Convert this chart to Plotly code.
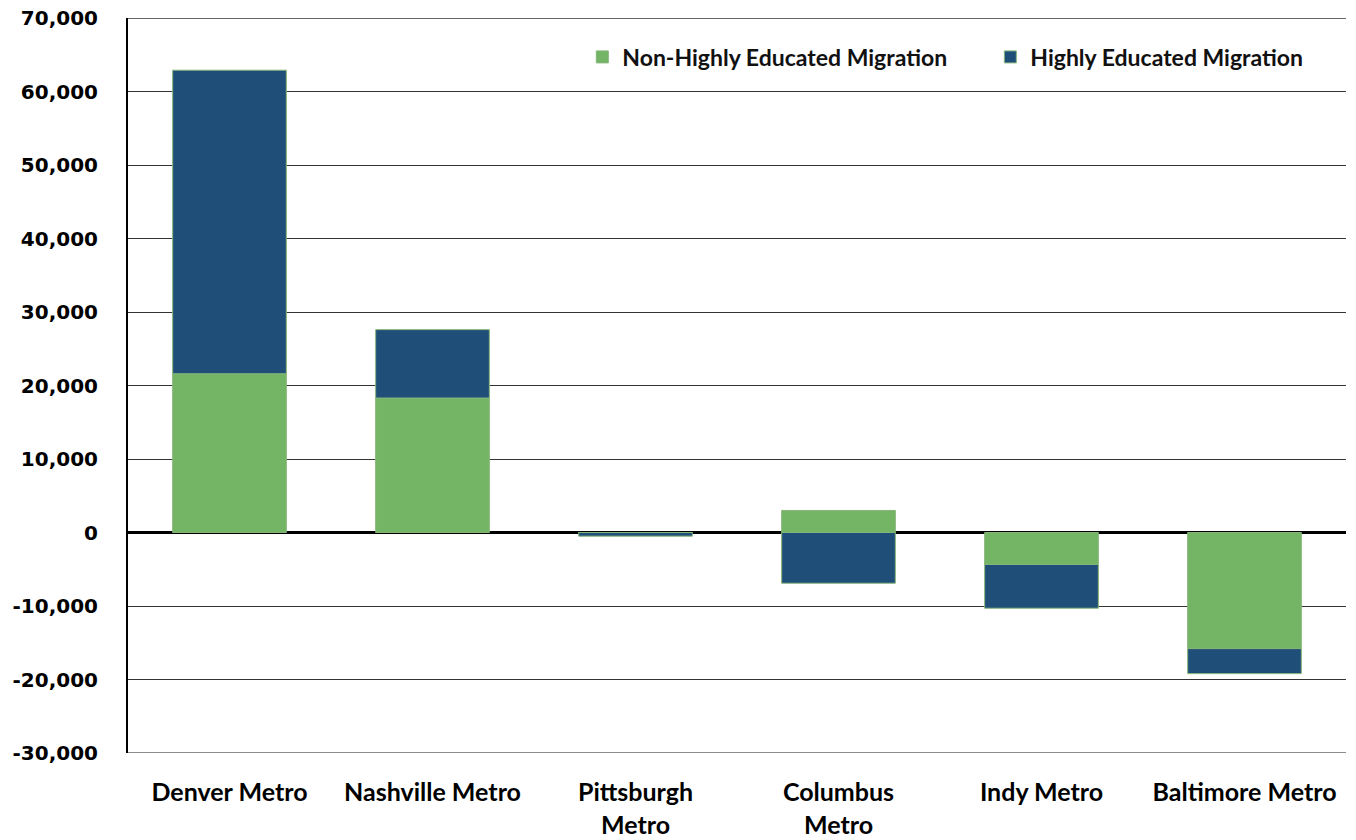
import plotly.graph_objects as go

categories = ["Denver Metro", "Nashville Metro", "Pittsburgh<br>Metro", "Columbus<br>Metro", "Indy Metro", "Baltimore Metro"]
non_highly = [21600, 18300, 0, 3000, -4350, -15800]
highly = [41300, 9300, -500, -6900, -5950, -3400]
y_ticks = list(range(-30000, 70001, 10000))
y_tick_labels = ["-30,000", "-20,000", "-10,000", "0", "10,000", "20,000", "30,000",
                 "40,000", "50,000", "60,000", "70,000"]

fig = go.Figure()
fig.add_trace(go.Bar(x=categories, y=non_highly, name="Non-Highly Educated Migration",
                     legend="legend", showlegend=True,
                     marker=dict(color="#74B565", line=dict(color="#86b57a", width=1))))
fig.add_trace(go.Bar(x=categories, y=highly, name="Highly Educated Migration",
                     legend="legend2", showlegend=True,
                     marker=dict(color="#1F4E78", line=dict(color="#86b57a", width=1))))

legend_font = dict(family="Lato", size=23, color="#111", weight="bold")
fig.update_layout(
    showlegend=True,
    barmode="relative",
    bargap=0.44,
    width=1356, height=840,
    margin=dict(l=120, r=18, t=10, b=95),
    plot_bgcolor="white", paper_bgcolor="white",
    legend=dict(x=0.373, xanchor="left", y=0.947, yanchor="middle",
                font=legend_font, itemwidth=30, bgcolor="rgba(0,0,0,0)", visible=True),
    legend2=dict(x=0.708, xanchor="left", y=0.947, yanchor="middle",
                 font=legend_font, itemwidth=30, bgcolor="rgba(0,0,0,0)", visible=True),
    font=dict(family="Lato", color="black"),
)
fig.add_shape(type="line", xref="paper", yref="y", x0=0, x1=1, y0=70000, y1=70000,
              line=dict(color="#333", width=1.5), layer="below")
fig.add_shape(type="line", xref="paper", yref="y", x0=0, x1=1, y0=-30000, y1=-30000,
              line=dict(color="#666", width=1.5), layer="below")
fig.update_yaxes(range=[-30000, 70000], tickvals=y_ticks, ticktext=y_tick_labels,
                 showgrid=True, gridcolor="#333", gridwidth=1,
                 zeroline=True, zerolinecolor="black", zerolinewidth=3,
                 showline=True, linecolor="black", linewidth=2,
                 tickfont=dict(family="DejaVu Sans", size=20, color="black", weight="bold"),
                 ticklabelstandoff=24, ticklabeloverflow="allow", automargin=False)
fig.update_xaxes(showline=False, showgrid=False, automargin=False,
                 tickfont=dict(family="Lato", size=25, color="black", weight="bold"),
                 ticklabelstandoff=22)

fig.write_html("out.html")
